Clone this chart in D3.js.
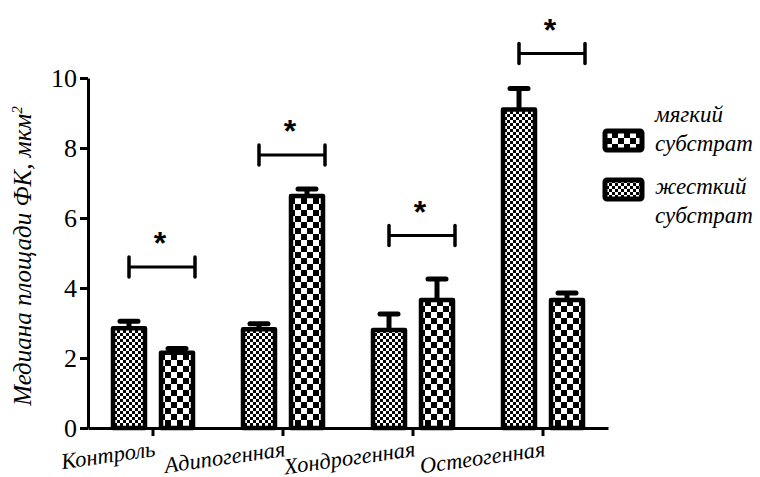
<!DOCTYPE html>
<html>
<head>
<meta charset="utf-8">
<script src="https://cdn.jsdelivr.net/npm/d3@7"></script>
<style>
  html, body { margin: 0; padding: 0; background: #fff; }
  svg { display: block; }
</style>
</head>
<body>
<svg id="chart" width="760" height="477"></svg>
<script>
// Groups along the x axis
const categories = ["Контроль", "Адипогенная", "Хондрогенная", "Остеогенная"];

// Left bar of each group (fine checker) and its upper error
const leftValues = [2.85, 2.82, 2.80, 9.10];
const leftErrors = [0.20, 0.16, 0.46, 0.60];

// Right bar of each group (coarse checker) and its upper error
const rightValues = [2.15, 6.63, 3.66, 3.66];
const rightErrors = [0.12, 0.20, 0.60, 0.20];

// Height of the significance bracket over each group
const bracketLevels = [4.6, 7.8, 5.5, 10.7];

// Axis ticks and legend entries
const yTicks = [0, 2, 4, 6, 8, 10];
const legendLabels = [["мягкий", "субстрат"], ["жесткий", "субстрат"]];
const yTitle = "Медиана площади ФК, мкм";

const SERIF = "'Liberation Serif', 'Times New Roman', serif";

const svg = d3.select("#chart");
const defs = svg.append("defs");

// Checkerboard fills
function checker(id, cell) {
  const p = defs.append("pattern")
    .attr("id", id).attr("patternUnits", "userSpaceOnUse")
    .attr("width", cell * 2).attr("height", cell * 2);
  p.append("rect").attr("width", cell * 2).attr("height", cell * 2).attr("fill", "#fff");
  p.append("rect").attr("width", cell).attr("height", cell).attr("fill", "#000");
  p.append("rect").attr("x", cell).attr("y", cell).attr("width", cell).attr("height", cell).attr("fill", "#000");
}
checker("fine", 3);
checker("coarse", 6);

const x = d3.scaleBand().domain(categories).range([88, 608]).padding(0);
const x1 = d3.scaleBand().domain([0, 1]).range([-40, 40]).paddingInner(1 / 3);
const y = d3.scaleLinear().domain([0, 10]).range([428, 78]);

const rows = categories.map((c, i) => ({
  cat: c,
  bars: [
    { k: 0, v: leftValues[i], e: leftErrors[i], fill: "url(#fine)" },
    { k: 1, v: rightValues[i], e: rightErrors[i], fill: "url(#coarse)" }
  ],
  bracket: bracketLevels[i]
}));

const center = c => x(c) + x.bandwidth() / 2;

// Bars and error bars
const groups = svg.append("g").selectAll("g").data(rows).join("g")
  .attr("transform", d => `translate(${center(d.cat)},0)`);

groups.selectAll("line.err").data(d => d.bars).join("line")
  .attr("class", "err")
  .attr("x1", b => x1(b.k) + x1.bandwidth() / 2)
  .attr("x2", b => x1(b.k) + x1.bandwidth() / 2)
  .attr("y1", b => y(b.v))
  .attr("y2", b => y(b.v + b.e))
  .attr("stroke", "#000").attr("stroke-width", 5);

groups.selectAll("line.cap").data(d => d.bars).join("line")
  .attr("class", "cap")
  .attr("x1", b => x1(b.k) + x1.bandwidth() / 2 - 9)
  .attr("x2", b => x1(b.k) + x1.bandwidth() / 2 + 9)
  .attr("y1", b => y(b.v + b.e))
  .attr("y2", b => y(b.v + b.e))
  .attr("stroke", "#000").attr("stroke-width", 5).attr("stroke-linecap", "round");

groups.selectAll("rect.bar").data(d => d.bars).join("rect")
  .attr("class", "bar")
  .attr("x", b => x1(b.k))
  .attr("width", x1.bandwidth())
  .attr("y", b => y(b.v))
  .attr("height", b => y(0) - y(b.v))
  .attr("fill", b => b.fill)
  .attr("stroke", "#000").attr("stroke-width", 4.5)
  .attr("stroke-linejoin", "round");

// Significance brackets
const br = groups.append("g").attr("class", "bracket");
const bx0 = x1(0) + x1.bandwidth() / 2;
const bx1 = x1(1) + x1.bandwidth() + 2;
br.append("line")
  .attr("x1", bx0).attr("x2", bx1)
  .attr("y1", d => y(d.bracket)).attr("y2", d => y(d.bracket))
  .attr("stroke", "#000").attr("stroke-width", 3);
[bx0, bx1].forEach(bx => {
  br.append("line")
    .attr("x1", bx).attr("x2", bx)
    .attr("y1", d => y(d.bracket) - 10).attr("y2", d => y(d.bracket) + 10)
    .attr("stroke", "#000").attr("stroke-width", 3.5).attr("stroke-linecap", "round");
});
br.append("text")
  .attr("x", (bx0 + bx1) / 2 - 2)
  .attr("y", d => y(d.bracket) - 13)
  .attr("text-anchor", "middle")
  .attr("font-family", "'Liberation Sans', Arial, sans-serif")
  .attr("font-weight", "bold")
  .attr("font-size", 32)
  .text("*");

// Y axis
const yAxis = svg.append("g").attr("transform", "translate(88,0)")
  .call(d3.axisLeft(y).tickValues(yTicks).tickSize(8).tickSizeOuter(0).tickPadding(3));
yAxis.attr("font-family", SERIF).attr("font-size", 26);
yAxis.select(".domain").attr("stroke-width", 3);
yAxis.selectAll(".tick line").attr("stroke-width", 3);
yAxis.selectAll(".tick text").attr("fill", "#000").attr("dy", "0.34em");

// X axis
const xAxis = svg.append("g").attr("transform", `translate(0,${y(0)})`)
  .call(d3.axisBottom(x).tickSize(8).tickSizeOuter(0).tickPadding(0));
xAxis.attr("font-family", SERIF).attr("font-size", 22.5);
xAxis.select(".domain").attr("stroke-width", 3);
xAxis.selectAll(".tick line").attr("stroke-width", 3);
xAxis.selectAll(".tick text")
  .attr("font-style", "italic")
  .attr("fill", "#000")
  .attr("text-anchor", "end")
  .attr("dy", null)
  .attr("y", 0)
  .attr("transform", "translate(3,28) rotate(-8)");

// Y axis title
const yt = svg.append("text")
  .attr("transform", "translate(31,256) rotate(-90)")
  .attr("text-anchor", "middle")
  .attr("font-family", SERIF)
  .attr("font-style", "italic")
  .attr("font-size", 25)
  .text(yTitle);
yt.append("tspan").attr("dy", -9).attr("font-size", 15).text("2");

// Legend swatches
const legendFills = ["url(#coarse)", "url(#fine)"];
const legendSwatchY = [131, 180];
const legendTextY = [122, 194];
svg.append("g").selectAll("rect").data(legendLabels).join("rect")
  .attr("x", 605).attr("y", (d, i) => legendSwatchY[i])
  .attr("width", 37).attr("height", 19).attr("rx", 2)
  .attr("fill", (d, i) => legendFills[i])
  .attr("stroke", "#000").attr("stroke-width", 5).attr("stroke-linejoin", "round");

// Legend labels, two lines each
svg.append("g").selectAll("text").data(legendLabels).join("text")
  .attr("y", (d, i) => legendTextY[i])
  .attr("font-family", SERIF)
  .attr("font-style", "italic").attr("font-size", 23)
  .selectAll("tspan").data(d => d).join("tspan")
  .attr("x", 655).attr("dy", (t, j) => j === 0 ? 0 : 29)
  .text(t => t);
</script>
</body>
</html>
